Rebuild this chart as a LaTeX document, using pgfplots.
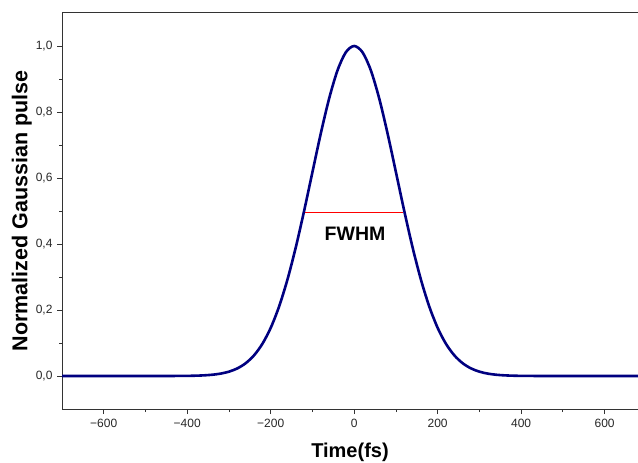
\documentclass[border=0pt]{standalone}
\usepackage{pgfplots}
\pgfplotsset{compat=1.18}
\usepackage{fontspec}
\setmainfont{Liberation Sans}
\definecolor{pulse}{RGB}{0,0,128}

\pgfplotstableread{
t     I
-700  0
-600  0
-500  0
-450  0.00001
-400  0.00045
-380  0.00096
-360  0.00195
-340  0.00383
-320  0.00723
-300  0.01314
-280  0.02297
-260  0.03862
-240  0.06250
-220  0.09733
-200  0.14578
-180  0.21022
-160  0.29163
-140  0.38928
-120  0.50000
-100  0.61791
-80   0.73487
-60   0.84089
-40   0.92587
-20   0.98093
0     1.00000
20    0.98093
40    0.92587
60    0.84089
80    0.73487
100   0.61791
120   0.50000
140   0.38928
160   0.29163
180   0.21022
200   0.14578
220   0.09733
240   0.06250
260   0.03862
280   0.02297
300   0.01314
320   0.00723
340   0.00383
360   0.00195
380   0.00096
400   0.00045
450   0.00001
500   0
600   0
680   0
}\pulsedata

\begin{document}
\begin{tikzpicture}
\begin{axis}[
  scale only axis,
  width=576pt, height=396pt,
  xmin=-700, xmax=680,
  ymin=-0.1, ymax=1.1,
  axis x line=box, axis y line=left,
  axis line style={-, black!80, line width=1pt},
  tick align=outside,
  xtick pos=bottom, ytick pos=left,
  xtick={-600,-400,...,600},
  xticklabels={−600,−400,−200,0,200,400,600},
  ytick={0,0.2,...,1.0},
  yticklabels={{0,0},{0,2},{0,4},{0,6},{0,8},{1,0}},
  minor x tick num=1, minor y tick num=1,
  major tick length=5pt, minor tick length=3pt,
  every tick/.style={black!80, line width=0.8pt},
  tick label style={font=\fontsize{12}{14}\selectfont, text=black!85},
  xticklabel style={yshift=-2pt},
  yticklabel style={xshift=-1pt},
  xlabel={\textbf{Time(fs)}},
  ylabel={\textbf{Normalized Gaussian pulse}},
  xlabel style={font=\fontsize{20}{24}\selectfont, yshift=-8pt},
  ylabel style={font=\fontsize{21.5}{24}\selectfont, yshift=-3pt},
  clip=true,
]
\addplot[pulse, line width=2.6pt, smooth] table[x=t, y=I] {\pulsedata};
\addplot[red, line width=1.5pt] coordinates {(-117,0.495) (118,0.495)};
\node[font=\fontsize{19.5}{22}\selectfont\bfseries] at (axis cs:2,0.432) {FWHM};
\end{axis}
\pgfresetboundingbox
\path[use as bounding box] ([xshift=-62pt,yshift=-53pt]current axis.south west) rectangle ([yshift=13pt]current axis.north east);
\end{tikzpicture}
\end{document}
